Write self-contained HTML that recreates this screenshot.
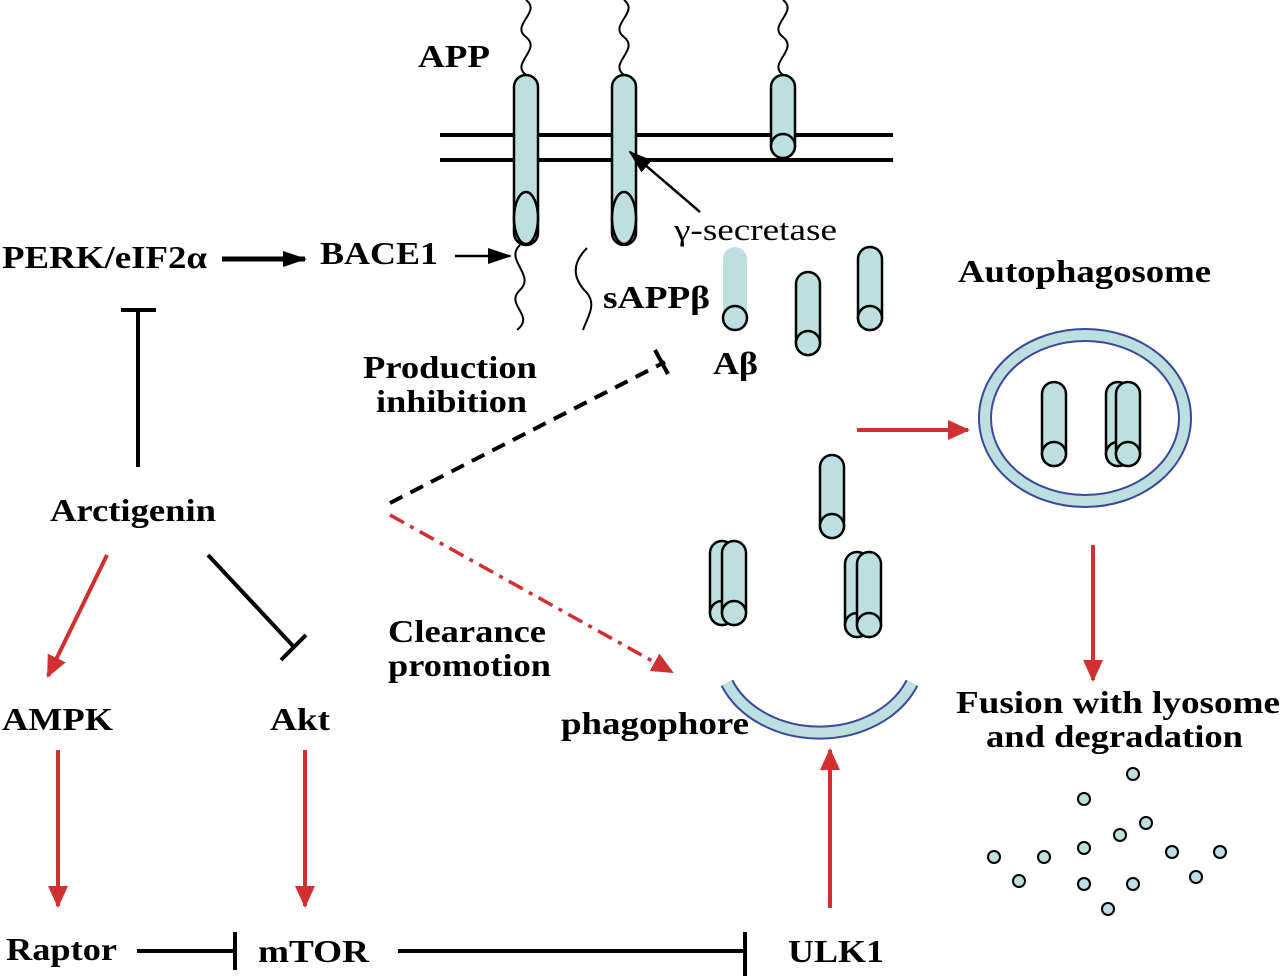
<!DOCTYPE html>
<html><head><meta charset="utf-8"><style>
html,body{margin:0;padding:0;background:#fff;}
svg{display:block}
text{font-family:"Liberation Serif",serif;font-weight:bold;font-size:32px;fill:#000}
</style></head><body>
<svg width="1280" height="978" viewBox="0 0 1280 978" xmlns="http://www.w3.org/2000/svg">
<defs>
<marker id="ar" markerWidth="22" markerHeight="20" refX="20" refY="10" orient="auto" markerUnits="userSpaceOnUse"><path d="M0,0 L22,10 L0,20z" fill="#d03030"/></marker>
<marker id="abk" markerWidth="24" markerHeight="16" refX="22" refY="8" orient="auto" markerUnits="userSpaceOnUse"><path d="M0,0 L24,8 L0,16z" fill="#000"/></marker>
</defs>
<g fill="none" stroke="#000" stroke-width="2">
<path d="M526,75 c-16,-12 16,-25 0,-38 c-16,-12 16,-25 0,-37"/>
<path d="M624,75 c-16,-12 16,-25 0,-38 c-16,-12 16,-25 0,-37"/>
<path d="M783,75 c-16,-12 16,-25 0,-38 c-16,-12 16,-25 0,-37"/>
<path d="M520,245 c-16,15 16,30 0,45 c-16,15 16,25 -3,40"/>
<path d="M587,248 c-15,15 -15,30 0,45 c10,12 0,25 -4,37"/>
</g>
<line x1="440" y1="135" x2="893" y2="135" stroke="#000" stroke-width="4"/>
<line x1="440" y1="160" x2="893" y2="160" stroke="#000" stroke-width="4"/>
<g fill="#bcdfdf" stroke="#000" stroke-width="2.5">
<rect x="514" y="75" width="24" height="170" rx="12"/><ellipse cx="526" cy="218" rx="12" ry="26"/>
<rect x="612" y="75" width="24" height="170" rx="12"/><ellipse cx="624" cy="218" rx="12" ry="26"/>
<rect x="771" y="75" width="24" height="83" rx="12"/><circle cx="783" cy="146" r="12"/>
<rect x="796" y="272" width="24" height="83" rx="12"/><circle cx="808" cy="343" r="12"/>
<rect x="858" y="247" width="24" height="83" rx="12"/><circle cx="870" cy="318" r="12"/>
<rect x="820" y="455" width="24" height="83" rx="12"/><circle cx="832" cy="526" r="12"/>
<rect x="710" y="541" width="24" height="84" rx="12"/><circle cx="722" cy="613" r="12"/>
<rect x="722" y="541" width="24" height="84" rx="12"/><circle cx="734" cy="613" r="12"/>
<rect x="845" y="552" width="24" height="85" rx="12"/><circle cx="857" cy="625" r="12"/>
<rect x="857" y="552" width="24" height="85" rx="12"/><circle cx="869" cy="625" r="12"/>
</g>
<rect x="723" y="247" width="24" height="84" rx="12" fill="#bcdfdf"/>
<circle cx="735" cy="318" r="12" fill="#bcdfdf" stroke="#000" stroke-width="2.5"/>
<ellipse cx="1085" cy="418" rx="100" ry="83" fill="none" stroke="#3a4a9a" stroke-width="14"/>
<ellipse cx="1085" cy="418" rx="100" ry="83" fill="none" stroke="#bcdfdf" stroke-width="10"/>
<g fill="#bcdfdf" stroke="#000" stroke-width="2.5">
<rect x="1042" y="382" width="24" height="84" rx="12"/><circle cx="1054" cy="454" r="12"/>
<rect x="1106" y="382" width="24" height="84" rx="12"/><circle cx="1118" cy="454" r="12"/>
<rect x="1116" y="382" width="24" height="84" rx="12"/><circle cx="1128" cy="454" r="12"/>
</g>
<path d="M727,683 A100,80 0 0 0 912,683" fill="none" stroke="#3a4a9a" stroke-width="14"/>
<path d="M727,683 A100,80 0 0 0 912,683" fill="none" stroke="#bcdfdf" stroke-width="10"/>
<g fill="#bcdfdf" stroke="#000" stroke-width="2">
<circle cx="1133" cy="774" r="6"/><circle cx="1084" cy="799" r="6"/><circle cx="1146" cy="823" r="6"/><circle cx="1120" cy="835" r="6"/>
<circle cx="1084" cy="848" r="6"/><circle cx="994" cy="857" r="6"/><circle cx="1044" cy="857" r="6"/><circle cx="1172" cy="852" r="6"/><circle cx="1220" cy="852" r="6"/>
<circle cx="1019" cy="881" r="6"/><circle cx="1084" cy="884" r="6"/><circle cx="1133" cy="884" r="6"/><circle cx="1196" cy="877" r="6"/><circle cx="1108" cy="909" r="6"/>
</g>
<g stroke="#000" fill="none">
<line x1="222" y1="259" x2="305" y2="259" stroke-width="5" marker-end="url(#abk)"/>
<line x1="455" y1="256" x2="510" y2="256" stroke-width="2.5" marker-end="url(#abk)"/>
<line x1="700" y1="212" x2="630" y2="152" stroke-width="2.5" marker-end="url(#abk)"/>
<line x1="138" y1="310" x2="138" y2="467" stroke-width="4"/>
<line x1="121" y1="310" x2="156" y2="310" stroke-width="4"/>
<line x1="208" y1="555" x2="294" y2="647" stroke-width="4"/>
<line x1="281" y1="660" x2="306" y2="635" stroke-width="4"/>
<line x1="137" y1="951" x2="234" y2="951" stroke-width="4"/>
<line x1="235" y1="932" x2="235" y2="970" stroke-width="4"/>
<line x1="398" y1="951" x2="743" y2="951" stroke-width="4"/>
<line x1="745" y1="932" x2="745" y2="976" stroke-width="4"/>
<line x1="390" y1="503" x2="665" y2="362" stroke-width="4" stroke-dasharray="14,9"/>
<line x1="655" y1="350" x2="668" y2="374" stroke-width="4"/>
</g>
<g stroke="#d03030" stroke-width="4" fill="none">
<line x1="857" y1="430" x2="968" y2="430" marker-end="url(#ar)"/>
<line x1="1093" y1="545" x2="1093" y2="680" marker-end="url(#ar)"/>
<line x1="830" y1="908" x2="830" y2="750" marker-end="url(#ar)"/>
<line x1="58" y1="750" x2="58" y2="906" marker-end="url(#ar)"/>
<line x1="305" y1="750" x2="305" y2="906" marker-end="url(#ar)"/>
<line x1="107" y1="555" x2="48" y2="676" marker-end="url(#ar)"/>
<line x1="390" y1="515" x2="672" y2="672" stroke-width="3.5" stroke-dasharray="16,7,4,7" marker-end="url(#ar)"/>
</g>
<g lengthAdjust="spacingAndGlyphs">
<text x="418" y="67" textLength="72" lengthAdjust="spacingAndGlyphs">APP</text>
<text x="2" y="268" textLength="205" lengthAdjust="spacingAndGlyphs">PERK/eIF2α</text>
<text x="320" y="264" textLength="118" lengthAdjust="spacingAndGlyphs">BACE1</text>
<text x="674" y="240" textLength="163" lengthAdjust="spacingAndGlyphs" style="font-weight:normal;font-size:31px">γ-secretase</text>
<text x="603" y="308" textLength="107" lengthAdjust="spacingAndGlyphs">sAPPβ</text>
<text x="958" y="282" textLength="253" lengthAdjust="spacingAndGlyphs">Autophagosome</text>
<text x="363" y="378" textLength="174" lengthAdjust="spacingAndGlyphs">Production</text>
<text x="376" y="412" textLength="151" lengthAdjust="spacingAndGlyphs">inhibition</text>
<text x="713" y="374" textLength="45" lengthAdjust="spacingAndGlyphs">Aβ</text>
<text x="50" y="521" textLength="166" lengthAdjust="spacingAndGlyphs">Arctigenin</text>
<text x="388" y="642" textLength="158" lengthAdjust="spacingAndGlyphs">Clearance</text>
<text x="388" y="676" textLength="163" lengthAdjust="spacingAndGlyphs">promotion</text>
<text x="2" y="730" textLength="111" lengthAdjust="spacingAndGlyphs">AMPK</text>
<text x="270" y="730" textLength="60" lengthAdjust="spacingAndGlyphs">Akt</text>
<text x="561" y="734" textLength="188" lengthAdjust="spacingAndGlyphs">phagophore</text>
<text x="956" y="713" textLength="324" lengthAdjust="spacingAndGlyphs">Fusion with lyosome</text>
<text x="986" y="747" textLength="257" lengthAdjust="spacingAndGlyphs">and degradation</text>
<text x="6" y="960" textLength="111" lengthAdjust="spacingAndGlyphs">Raptor</text>
<text x="258" y="962" textLength="111" lengthAdjust="spacingAndGlyphs">mTOR</text>
<text x="788" y="962" textLength="96" lengthAdjust="spacingAndGlyphs">ULK1</text>
</g>
</svg>
</body></html>
